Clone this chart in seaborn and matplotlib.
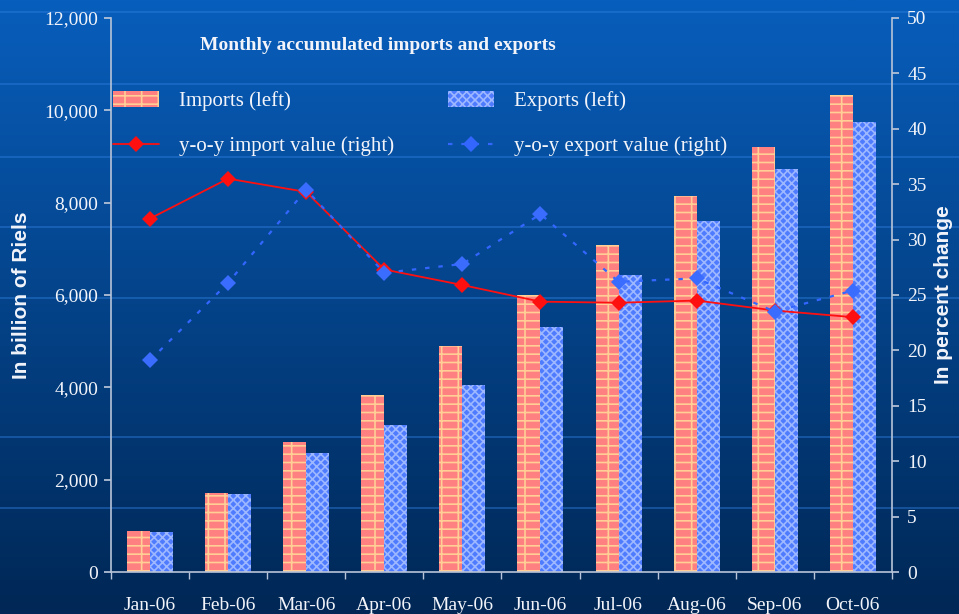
import numpy as np
import pandas as pd
import matplotlib.pyplot as plt
import seaborn as sns
from matplotlib.patches import Patch
from matplotlib.lines import Line2D

months = ['Jan-06', 'Feb-06', 'Mar-06', 'Apr-06', 'May-06',
          'Jun-06', 'Jul-06', 'Aug-06', 'Sep-06', 'Oct-06']
imports = [890, 1710, 2815, 3835, 4895, 6000, 7085, 8145, 9205, 10330]
exports = [865, 1690, 2575, 3185, 4050, 5305, 6435, 7600, 8730, 9745]
yoy_import = [31.9, 35.5, 34.3, 27.3, 25.9, 24.4, 24.3, 24.5, 23.6, 23.0]
yoy_export = [19.1, 26.1, 34.5, 27.0, 27.8, 32.3, 26.2, 26.5, 23.5, 25.4]

IMP_FACE, IMP_HATCH = '#ff8080', '#ffcf95'
EXP_FACE, EXP_HATCH = '#4f7bff', '#9db8ff'
TXT = '#f2f4fa'
AX_COL = '#b8c4d8'

bars = pd.DataFrame({
    'month': months * 2,
    'value': imports + exports,
    'series': ['Imports (left)'] * len(months) + ['Exports (left)'] * len(months),
})

sns.set_theme(style='white')
plt.rcParams['hatch.linewidth'] = 1.2
fig = plt.figure(figsize=(9.59, 6.14), dpi=100)

# gradient background
bg = fig.add_axes([0, 0, 1, 1], zorder=-10)
grad = np.linspace(0, 1, 256).reshape(-1, 1)
top = np.array([0x08, 0x5e, 0xbc]) / 255
bot = np.array([0x00, 0x27, 0x55]) / 255
img = top + (bot - top) * grad[..., None]
bg.imshow(img, aspect='auto', extent=[0, 1, 0, 1])
for yy in [0.98, 0.863, 0.745, 0.63, 0.515, 0.288, 0.173]:
    bg.axhline(yy, color='#2f7fe0', lw=1.2, alpha=0.5)
bg.set_xlim(0, 1)
bg.set_ylim(0, 1)
bg.axis('off')

ax = fig.add_axes([0.1157, 0.0684, 0.8143, 0.9023])
ax.patch.set_alpha(0)
sns.barplot(data=bars, x='month', y='value', hue='series', order=months,
            palette=[IMP_FACE, EXP_FACE], width=0.59, gap=0, ax=ax,
            legend=False, saturation=1)
for p in ax.patches[:len(months)]:
    p.set_hatch('--|')
    p.set_edgecolor(IMP_HATCH)
    p.set_linewidth(0)
for p in ax.patches[len(months):2 * len(months)]:
    p.set_hatch('xxxx')
    p.set_edgecolor(EXP_HATCH)
    p.set_linewidth(0)

ax.set_ylim(0, 12000)
ax.set_xlim(-0.5, len(months) - 0.5)
ax.set_yticks(range(0, 12001, 2000))
ax.set_yticklabels([f'{v:,}' for v in range(0, 12001, 2000)])
ax.set_xticks(np.arange(len(months)))
ax.set_xticklabels(months)
ax.set_xticks(np.arange(-0.5, len(months)), minor=True)
ax.tick_params(axis='x', which='major', length=0, pad=18, labelcolor=TXT)
ax.tick_params(axis='x', which='minor', length=5, color=AX_COL, direction='out', bottom=True)
ax.tick_params(axis='y', length=5, color=AX_COL, direction='out', left=True, labelcolor=TXT, pad=4)
for lab in ax.get_xticklabels() + ax.get_yticklabels():
    lab.set_fontfamily('Liberation Serif')
    lab.set_fontsize(14)
ax.set_xlabel('')
ax.set_ylabel('In billion of Riels', color=TXT, fontsize=15, fontweight='bold',
              fontfamily='Liberation Sans', labelpad=10)
for s in ['top', 'right']:
    ax.spines[s].set_visible(False)
for s in ['left', 'bottom']:
    ax.spines[s].set_color(AX_COL)
    ax.spines[s].set_linewidth(1.2)

ax2 = ax.twinx()
x = np.arange(len(months))
sns.lineplot(x=x, y=yoy_import, ax=ax2, color='#ff1010', lw=1.3, marker='D',
             markersize=8, markeredgewidth=0, markerfacecolor='#ff1010')
sns.lineplot(x=x, y=yoy_export, ax=ax2, color='#3366ff', lw=1.6, marker='D',
             markersize=8, markeredgewidth=0, markerfacecolor='#3a6cff',
             linestyle=(0, (2, 4)))
ax2.set_ylim(0, 50)
ax2.set_yticks(range(0, 51, 5))
ax2.tick_params(axis='y', length=5, color=AX_COL, direction='out', right=True,
                labelcolor=TXT, pad=6)
for lab in ax2.get_yticklabels():
    lab.set_fontfamily('Liberation Serif')
    lab.set_fontsize(14)
ax2.set_ylabel('In percent change', color=TXT, fontsize=15, fontweight='bold',
               fontfamily='Liberation Sans', labelpad=5)
for s in ['top', 'left', 'bottom']:
    ax2.spines[s].set_visible(False)
ax2.spines['right'].set_color(AX_COL)
ax2.spines['right'].set_linewidth(1.2)

fig.text(0.394, 0.918, 'Monthly accumulated imports and exports', color=TXT,
         fontsize=14, fontweight='bold', fontfamily='Liberation Serif', ha='center')

handles = [
    Patch(facecolor=IMP_FACE, edgecolor=IMP_HATCH, hatch='--|', linewidth=0),
    Line2D([], [], color='#ff1010', lw=1.3, marker='D', markersize=8, markeredgewidth=0),
    Patch(facecolor=EXP_FACE, edgecolor=EXP_HATCH, hatch='xxxx', linewidth=0),
    Line2D([], [], color='#3366ff', lw=1.6, marker='D', markersize=8, markeredgewidth=0,
           linestyle=(0, (2, 4))),
]
labels = ['Imports (left)', 'y-o-y import value (right)',
          'Exports (left)', 'y-o-y export value (right)']
leg = fig.legend(handles, labels, ncol=2, loc='upper left', bbox_to_anchor=(0.118, 0.852),
                 frameon=False, borderpad=0, borderaxespad=0,
                 handlelength=2.2, handleheight=0.8, handletextpad=0.95,
                 labelspacing=1.2, columnspacing=2.6,
                 prop={'family': 'Liberation Serif', 'size': 15})
for t in leg.get_texts():
    t.set_color(TXT)

fig.savefig('out.png', dpi=100)
